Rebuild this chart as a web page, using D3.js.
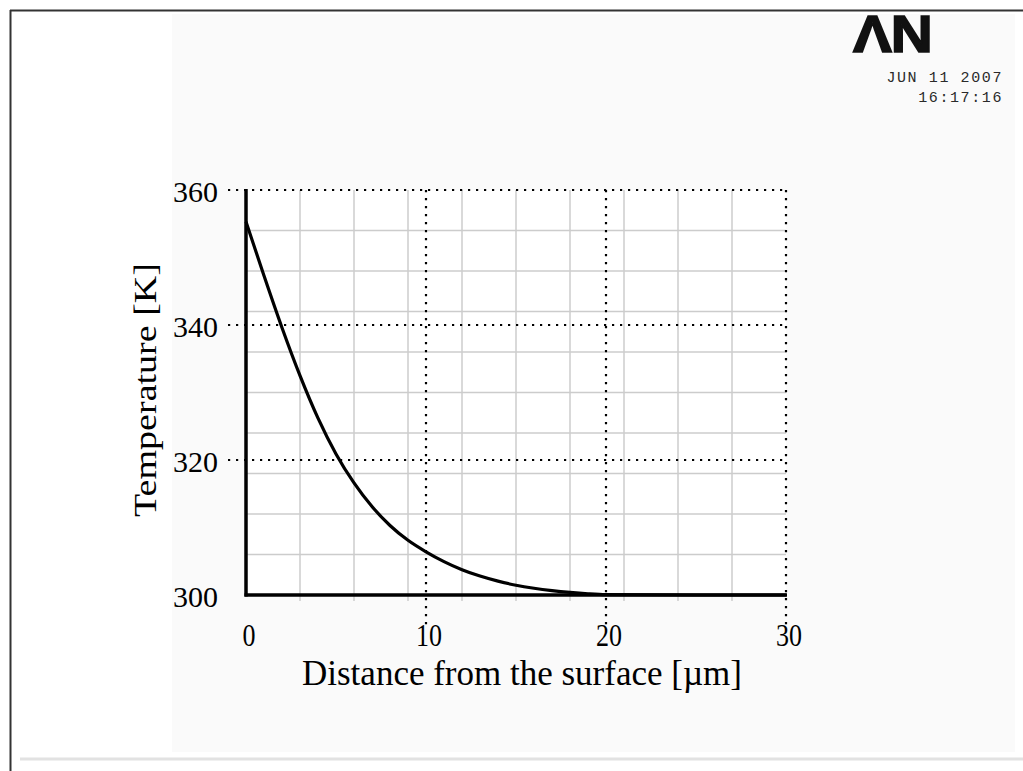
<!DOCTYPE html>
<html lang="en">
<head>
<meta charset="utf-8">
<title>Temperature profile</title>
<script src="https://d3js.org/d3.v7.min.js"></script>
<style>
  body { margin: 0; background: #fff; }
  svg { display: block; }
  .serif { font-family: "Liberation Serif", "Times New Roman", serif; fill: #000; }
  .stamp { font-family: "Liberation Mono", "DejaVu Sans Mono", monospace; fill: #2a2a2a; font-size: 15px; letter-spacing: 1.6px; }
</style>
</head>
<body>
<svg width="1023" height="771"></svg>
<script>
  // curve
  var distance = [0, 1, 2, 3, 4, 5, 6, 7, 8, 9, 10, 11, 12, 13, 14, 15, 16, 17, 18, 19, 20, 25, 30];
  var temperature = [355.3, 347.3, 339.6, 332.5, 326.2, 320.9, 316.6, 313.1, 310.3, 308.1, 306.4, 304.95, 303.75, 302.8, 302.05, 301.45, 301.0, 300.65, 300.38, 300.18, 300.06, 300, 300];

  var xTicks = [0, 10, 20, 30];
  var yTicks = [300, 320, 340, 360];
  // faint background grid of the original plot
  var xMinor = [3, 6, 9, 12, 15, 18, 21, 24, 27];
  var yMinor = [306, 312, 318, 324, 330, 336, 342, 348, 354];

  var xTitle = "Distance from the surface [\u00b5m]";
  var yTitle = "Temperature [K]";
  var stampDate = "JUN 11 2007";
  var stampTime = "16:17:16";

  var svg = d3.select("svg");

  var x = d3.scaleLinear().domain([0, 30]).range([246, 786]);
  var y = d3.scaleLinear().domain([300, 360]).range([595, 190]);

  // page frame
  svg.append("rect").attr("x", 172).attr("y", 14).attr("width", 843).attr("height", 738).attr("fill", "#fafafa");
  svg.append("line").attr("x1", 10).attr("x2", 1023).attr("y1", 10.5).attr("y2", 10.5)
    .attr("stroke", "#333").attr("stroke-width", 2);
  svg.append("line").attr("x1", 10.5).attr("x2", 10.5).attr("y1", 10).attr("y2", 771)
    .attr("stroke", "#333").attr("stroke-width", 2);
  svg.append("line").attr("x1", 20).attr("x2", 1023).attr("y1", 759).attr("y2", 759)
    .attr("stroke", "#e2e2e2").attr("stroke-width", 3);

  // plot background
  svg.append("rect").attr("x", x(0)).attr("y", y(360))
    .attr("width", x(30) - x(0)).attr("height", y(300) - y(360)).attr("fill", "#fff");

  // light grid
  var grid = svg.append("g").attr("stroke", "#cccccc").attr("stroke-width", 1.5);
  grid.selectAll(".gv").data(xMinor).enter().append("line")
    .attr("x1", function(d){ return x(d); }).attr("x2", function(d){ return x(d); })
    .attr("y1", y(360)).attr("y2", y(300) + 6);
  grid.selectAll(".gh").data(yMinor).enter().append("line")
    .attr("x1", x(0)).attr("x2", x(30))
    .attr("y1", function(d){ return y(d); }).attr("y2", function(d){ return y(d); });

  // dotted major grid
  var dots = svg.append("g").attr("stroke", "#000").attr("stroke-width", 2.2)
    .attr("stroke-dasharray", "2.2,5.8");
  dots.selectAll(".dh").data(yTicks.filter(function(d){ return d > 300; })).enter().append("line")
    .attr("x1", 228).attr("x2", x(30) + 1)
    .attr("y1", function(d){ return y(d); }).attr("y2", function(d){ return y(d); });
  dots.selectAll(".dv").data(xTicks.filter(function(d){ return d > 0; })).enter().append("line")
    .attr("x1", function(d){ return x(d); }).attr("x2", function(d){ return x(d); })
    .attr("y1", y(360)).attr("y2", 627);

  // axes
  svg.append("line").attr("x1", x(0)).attr("x2", x(0)).attr("y1", y(360) - 1).attr("y2", y(300) + 1.5)
    .attr("stroke", "#000").attr("stroke-width", 3.5);
  svg.append("line").attr("x1", x(0) - 1.5).attr("x2", x(30) + 1).attr("y1", y(300)).attr("y2", y(300))
    .attr("stroke", "#000").attr("stroke-width", 3.5);

  // curve
  var line = d3.line()
    .x(function(d, i){ return x(distance[i]); })
    .y(function(d){ return y(d); })
    .curve(d3.curveMonotoneX);
  svg.append("path").datum(temperature)
    .attr("fill", "none").attr("stroke", "#000").attr("stroke-width", 3.2)
    .attr("d", line);

  // tick labels
  svg.selectAll(".yl").data(yTicks).enter().append("text")
    .attr("class", "serif").attr("font-size", 30)
    .attr("text-anchor", "end").attr("dominant-baseline", "central")
    .attr("x", 218).attr("y", function(d){ return y(d) + 1; })
    .text(function(d){ return d; });

  svg.selectAll(".xl").data(xTicks).enter().append("text")
    .attr("class", "serif").attr("font-size", 26)
    .attr("text-anchor", "middle")
    .attr("transform", function(d){ return "translate(" + (x(d) + 3) + ",646) scale(1,1.22)"; })
    .text(function(d){ return d; });

  // axis titles
  svg.append("text").attr("class", "serif").attr("font-size", 35)
    .attr("text-anchor", "middle").attr("x", 522).attr("y", 685)
    .text(xTitle);

  svg.append("text").attr("class", "serif").attr("font-size", 31)
    .attr("text-anchor", "middle")
    .attr("textLength", 254).attr("lengthAdjust", "spacingAndGlyphs")
    .attr("transform", "translate(156,390) rotate(-90)")
    .text(yTitle);

  // logo and time stamp
  svg.append("text")
    .attr("transform", "translate(853,52) scale(1.12,1)")
    .attr("font-family", "Liberation Sans, Arial, sans-serif").attr("font-weight", "bold")
    .attr("font-size", 52).attr("letter-spacing", -1)
    .attr("fill", "#111").attr("stroke", "#111").attr("stroke-width", 1.6)
    .text("\u039bN");
  svg.append("text").attr("class", "stamp").attr("text-anchor", "end")
    .attr("x", 1003).attr("y", 82).text(stampDate);
  svg.append("text").attr("class", "stamp").attr("text-anchor", "end")
    .attr("x", 1003).attr("y", 102).text(stampTime);
</script>
</body>
</html>
